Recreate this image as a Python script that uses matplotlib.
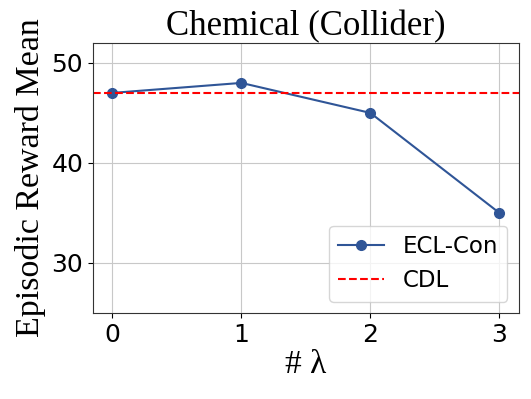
import matplotlib
matplotlib.use('Agg')
import matplotlib.pyplot as plt

lambdas = [0, 1, 2, 3]
ecl_con = [47, 48, 45, 35]
cdl = 47

fig = plt.figure(figsize=(5.31, 3.99), dpi=100)
ax = fig.add_axes([0.175, 0.2155, 0.802, 0.677])

ax.plot(lambdas, ecl_con, marker='o', color='#2f5597', markersize=7, linewidth=1.5, label='ECL-Con')
ax.axhline(cdl, color='red', linestyle='--', linewidth=1.5, label='CDL')

ax.set_xlim(-0.15, 3.15)
ax.set_ylim(25, 52)
ax.set_xticks(lambdas)
ax.set_yticks([30, 40, 50])
ax.tick_params(labelsize=18)
ax.grid(True, color='#c8c8c8', linewidth=0.8)
ax.set_axisbelow(True)
for s in ax.spines.values():
    s.set_color('#333333')

ax.set_title('Chemical (Collider)', family='Liberation Serif', size=25, pad=4)
ax.set_xlabel('# λ', family='Liberation Serif', size=24, labelpad=2)
ax.set_ylabel('Episodic Reward Mean', family='Liberation Serif', size=24.5, labelpad=4)
ax.legend(loc='lower right', fontsize=16.5)

fig.savefig('out.png', dpi=100)
